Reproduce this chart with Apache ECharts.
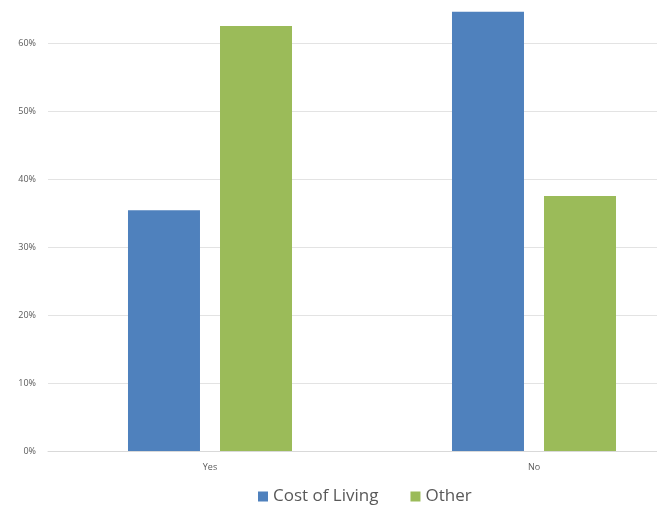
<!DOCTYPE html>
<html>
<head>
<meta charset="utf-8">
<script src="https://cdn.jsdelivr.net/npm/echarts@6/dist/echarts.min.js"></script>
<style>
  html, body { margin: 0; padding: 0; background: #fff; }
  #chart { width: 657px; height: 507px; }
</style>
</head>
<body>
<div id="chart"></div>
<script>
// Share of respondents by answer
const categories = ['Yes', 'No'];
const costOfLiving = [0.354, 0.646];
const other = [0.625, 0.375];
const seriesNames = ['Cost of Living', 'Other'];
const yTicks = [0, 0.1, 0.2, 0.3, 0.4, 0.5, 0.6, 0.7];

const chart = echarts.init(document.getElementById('chart'));
const font = '"Open Sans", "DejaVu Sans", sans-serif';

chart.setOption({
  animation: false,
  textStyle: { fontFamily: font },
  // plot area runs past the top and right edges of the canvas
  grid: { left: 48, top: -25, width: 648, height: 476, outerBoundsMode: 'none', containLabel: false },
  legend: {
    data: seriesNames,
    left: 253,
    top: 483,
    icon: 'rect',
    itemWidth: 10,
    itemHeight: 10,
    itemGap: 32,
    textStyle: { fontSize: 17, color: '#595959', fontFamily: font }
  },
  xAxis: {
    type: 'category',
    data: categories,
    axisLine: { lineStyle: { color: '#d9d9d9', width: 1 } },
    axisTick: { show: false },
    axisLabel: { color: '#595959', fontSize: 9, margin: 12, fontFamily: font }
  },
  yAxis: {
    type: 'value',
    min: yTicks[0],
    max: yTicks[yTicks.length - 1],
    interval: 0.1,
    axisLine: { show: false },
    axisTick: { show: false },
    splitLine: { lineStyle: { color: '#e3e3e3', width: 1 } },
    axisLabel: {
      color: '#595959', fontSize: 9, margin: 12, fontFamily: font,
      formatter: v => Math.round(v * 100) + '%'
    }
  },
  series: [
    {
      name: seriesNames[0],
      type: 'bar',
      data: costOfLiving,
      barWidth: 72,
      barGap: '27.8%',
      itemStyle: { color: '#4f81bd' }
    },
    {
      name: seriesNames[1],
      type: 'bar',
      data: other,
      barWidth: 72,
      itemStyle: { color: '#9bbb59' }
    }
  ]
});
</script>
</body>
</html>
